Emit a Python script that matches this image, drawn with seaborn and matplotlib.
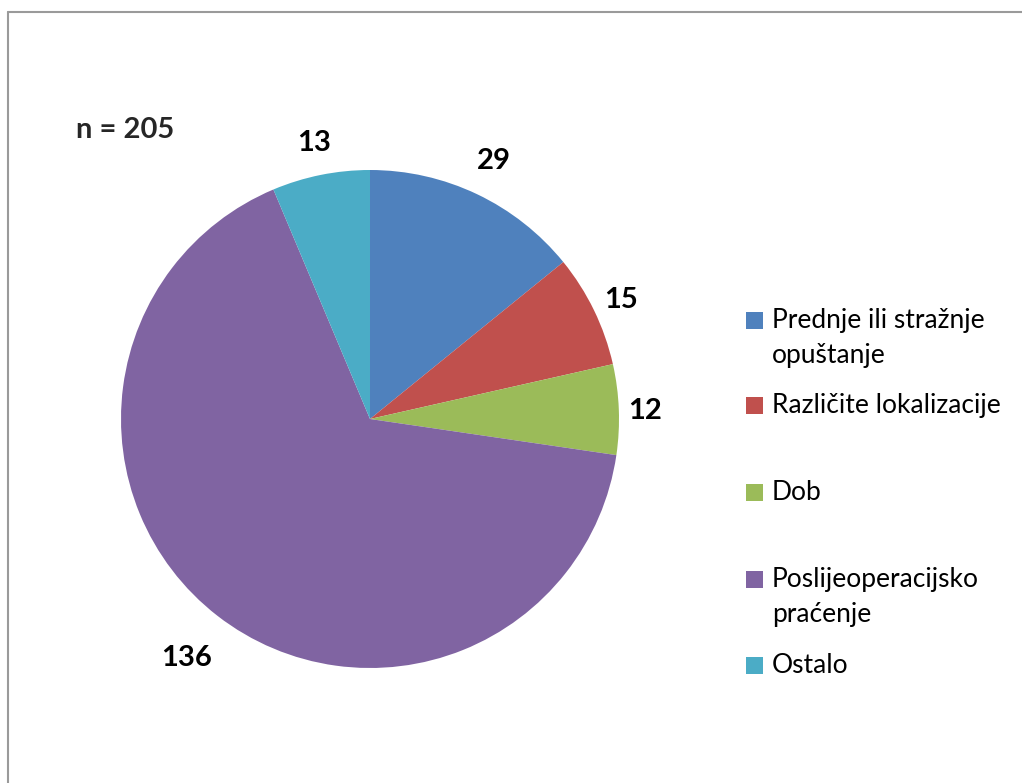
#!/usr/bin/env python
"""
pie chart of reasons (n = 205), recreated with seaborn/matplotlib
"""

import numpy as np
import seaborn as sns
import matplotlib.pyplot as plt
from matplotlib.patches import Rectangle
from matplotlib.lines import Line2D

## data
categories = ["Prednje ili stražnje\nopuštanje", "Različite lokalizacije", "Dob",
              "Poslijeoperacijsko\npraćenje", "Ostalo"]
values = [29, 15, 12, 136, 13]
total_label = "n = 205"

## colors (Office 2007 palette)
colors = ["#4F81BD", "#C0504D", "#9BBB59", "#8064A2", "#4BACC6"]

## how far out (in radii) each data label sits, like Excel's best-fit labels
label_dist = [1.16, 1.12, 1.105, 1.2, 1.14]

sns.set_theme(style="white")
plt.rcParams['font.family'] = ['Lato', 'DejaVu Sans']

W, H = 1022, 783
fig = plt.figure(figsize=(W / 100, H / 100), dpi=100)

## pie axes: centre (370, 419), radius 249 px
cx, cy, r = 370, 419, 249
ax = fig.add_axes([(cx - r) / W, (H - cy - r) / H, 2 * r / W, 2 * r / H])
wedges, texts = ax.pie(values, labels=[str(v) for v in values], colors=colors,
                       startangle=90, counterclock=False,
                       wedgeprops=dict(linewidth=0),
                       textprops=dict(fontsize=21, fontweight="bold", color="black"))
ax.set_xlim(-1, 1)
ax.set_ylim(-1, 1)
ax.set_aspect("equal")
ax.axis("off")

## centre each value label on its slice's mid-angle
for wedge, txt, d in zip(wedges, texts, label_dist):
    mid = np.deg2rad((wedge.theta1 + wedge.theta2) / 2)
    txt.set_position((d * np.cos(mid), d * np.sin(mid)))
    txt.set_ha("center")
    txt.set_va("center_baseline")

fig.text(125 / W, 1 - 127 / H, total_label, fontsize=21, fontweight="bold",
         ha="center", va="center_baseline")

## legend drawn by hand so the marker sits on the first text line
legend_y = [320, 405, 492, 579, 665]
for wedge, label, y in zip(wedges, categories, legend_y):
    fig.add_artist(Rectangle((746 / W, 1 - (y + 8.5) / H), 17 / W, 17 / H,
                             transform=fig.transFigure,
                             facecolor=wedge.get_facecolor(), edgecolor="none"))
    for i, line in enumerate(label.split("\n")):
        fig.text(772 / W, 1 - (y + 8 + 35 * i) / H, line, fontsize=19,
                 ha="left", va="baseline", color="black")

## chart area border (only top and left visible in the crop)
fig.add_artist(Line2D([8 / W, 1], [1 - 11.5 / H, 1 - 11.5 / H],
                      transform=fig.transFigure, color="#9a9a9a", lw=1.5))
fig.add_artist(Line2D([8 / W, 8 / W], [0, 1 - 11.5 / H],
                      transform=fig.transFigure, color="#9a9a9a", lw=1.5))

plt.savefig("out.png", dpi=100)
